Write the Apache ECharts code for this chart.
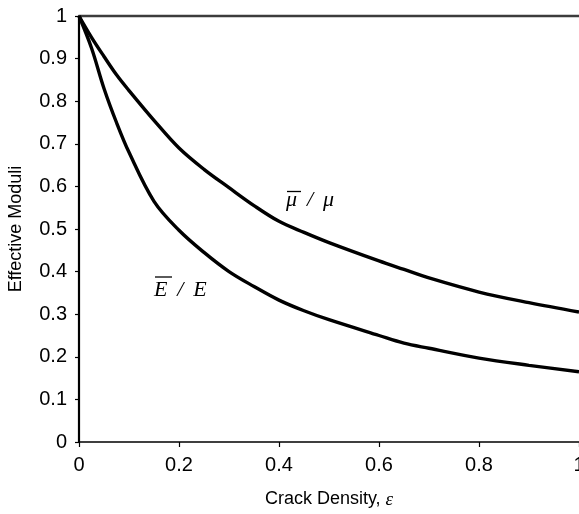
<!DOCTYPE html>
<html>
<head>
<meta charset="utf-8">
<script src="https://cdn.jsdelivr.net/npm/echarts@6/dist/echarts.min.js"></script>
<style>html,body{margin:0;padding:0;background:#fff;}#c{width:579px;height:514px;}</style>
</head>
<body>
<div id="c"></div>
<script>
// Crack density values (x)
var crackDensity = [0, 0.025, 0.05, 0.075, 0.1, 0.15, 0.2, 0.25, 0.3, 0.35, 0.4, 0.45, 0.5, 0.6, 0.65, 0.7, 0.8, 0.9, 1.0];
// Shear modulus ratio  mu-bar / mu
var shearRatio = [1, 0.95, 0.905, 0.862, 0.825, 0.755, 0.69, 0.64, 0.597, 0.555, 0.518, 0.492, 0.468, 0.425, 0.405, 0.385, 0.352, 0.327, 0.305];
// Young's modulus ratio  E-bar / E
var youngRatio = [1, 0.925, 0.83, 0.75, 0.68, 0.565, 0.497, 0.445, 0.4, 0.365, 0.333, 0.308, 0.287, 0.25, 0.232, 0.22, 0.197, 0.18, 0.165];
var xTicks = [0, 0.2, 0.4, 0.6, 0.8, 1];
var yTicks = [0, 0.1, 0.2, 0.3, 0.4, 0.5, 0.6, 0.7, 0.8, 0.9, 1];

function pairs(xs, ys) { return xs.map(function (x, i) { return [x, ys[i]]; }); }

var chart = echarts.init(document.getElementById('c'));
var sans = 'Liberation Sans, Arial, sans-serif';
var serif = 'Liberation Serif, Times New Roman, serif';
chart.setOption({
  animation: false,
  backgroundColor: '#fff',
  grid: { left: 79, right: 0, top: 16, bottom: 72, containLabel: false, outerBoundsMode: 'none' },
  xAxis: [{
    type: 'value', min: 0, max: 1, interval: 0.2,
    name: 'Crack Density, {e|ε}', nameLocation: 'middle', nameGap: 48,
    nameTextStyle: { fontFamily: sans, fontSize: 18, color: '#000',
      rich: { e: { fontFamily: serif, fontStyle: 'italic', fontSize: 19, color: '#000' } } },
    axisLine: { show: true, lineStyle: { color: '#000', width: 1.6 } },
    axisTick: { show: true, length: 5, inside: false, lineStyle: { color: '#000', width: 1.2 } },
    axisLabel: { margin: 13, fontFamily: sans, fontSize: 20, color: '#000', hideOverlap: false,
      formatter: function (v) { return xTicks.indexOf(+v.toFixed(1)) >= 0 ? String(+v.toFixed(1)) : ''; } },
    splitLine: { show: false }
  }, {
    type: 'value', min: 0, max: 1, position: 'top',
    axisLine: { show: true, onZero: false, lineStyle: { color: '#3c3c3c', width: 2.3 } },
    axisTick: { show: false }, axisLabel: { show: false }, splitLine: { show: false }
  }],
  yAxis: {
    type: 'value', min: 0, max: 1, interval: 0.1,
    name: 'Effective Moduli', nameLocation: 'middle', nameGap: 54,
    nameTextStyle: { fontFamily: sans, fontSize: 18, color: '#000' },
    axisLine: { show: true, lineStyle: { color: '#000', width: 2.2 } },
    axisTick: { show: true, length: 4, lineStyle: { color: '#000', width: 1.2 } },
    axisLabel: { margin: 12, fontFamily: sans, fontSize: 20, color: '#000', hideOverlap: false,
      formatter: function (v) { var r = +v.toFixed(1); return yTicks.indexOf(r) >= 0 ? String(r) : ''; } },
    splitLine: { show: false }
  },
  series: [{
    type: 'line', name: 'mu', data: pairs(crackDensity, shearRatio), xAxisIndex: 0,
    showSymbol: false, smooth: 0.35, lineStyle: { color: '#000', width: 3.4 }
  }, {
    type: 'line', name: 'E', data: pairs(crackDensity, youngRatio), xAxisIndex: 0,
    showSymbol: false, smooth: 0.35, lineStyle: { color: '#000', width: 3.4 }
  }],
  graphic: [
    { type: 'text', left: 286, top: 189, style: { text: 'μ \u2009/\u2009 μ', font: 'italic 22px ' + serif, fill: '#000' } },
    { type: 'line', shape: { x1: 287, y1: 191.5, x2: 301, y2: 191.5 }, style: { stroke: '#000', lineWidth: 1.3 } },
    { type: 'text', left: 154, top: 279, style: { text: 'E \u2009/\u2009 E', font: 'italic 22px ' + serif, fill: '#000' } },
    { type: 'line', shape: { x1: 155, y1: 277, x2: 172, y2: 277 }, style: { stroke: '#000', lineWidth: 1.3 } }
  ]
});
</script>
</body>
</html>
